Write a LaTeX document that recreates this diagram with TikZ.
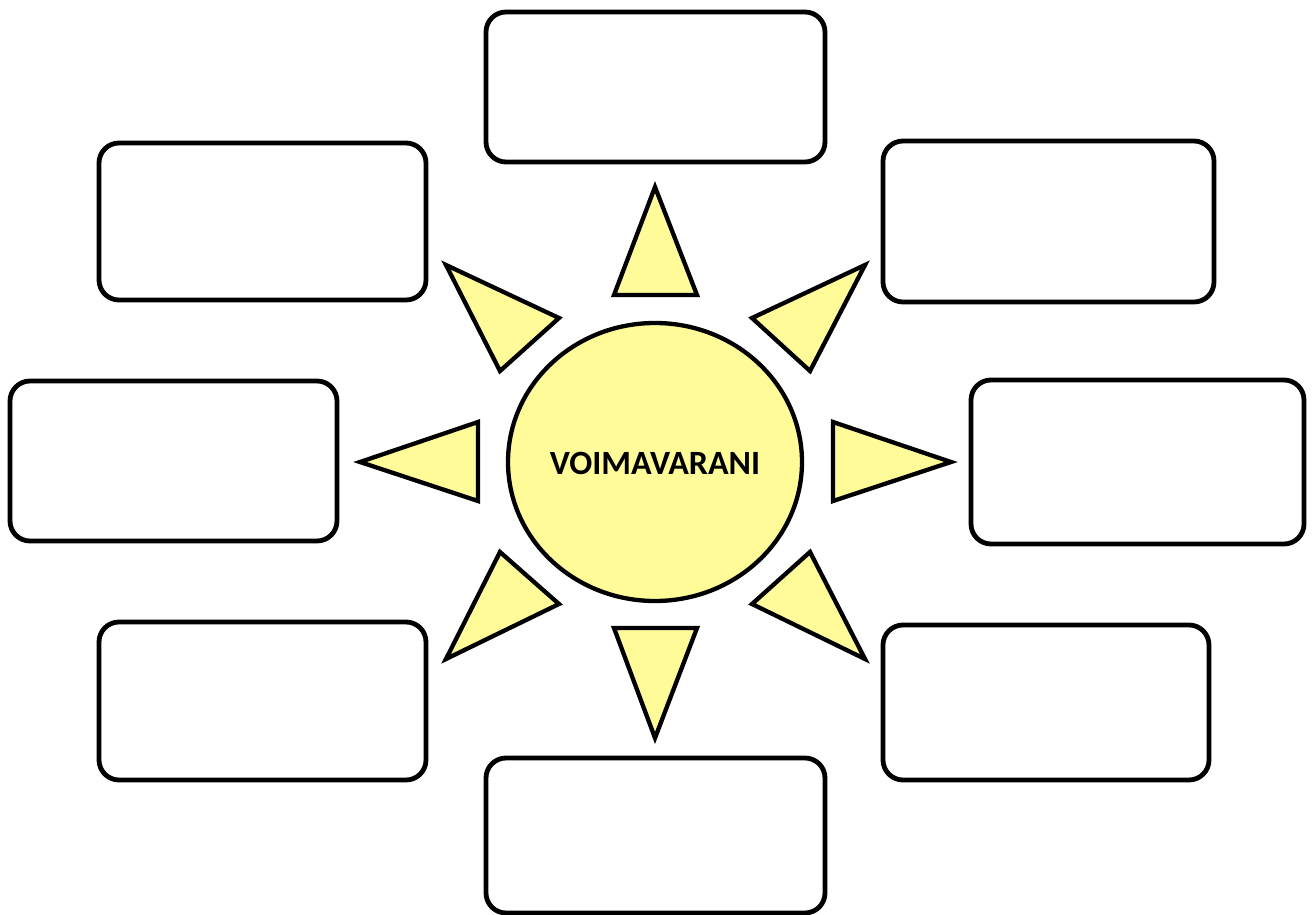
\documentclass[tikz,border=0pt]{standalone}
\usepackage{fontspec}
\setmainfont{Carlito}
\definecolor{sunfill}{RGB}{255,251,153}
\begin{document}
\begin{tikzpicture}[x=1pt,y=-1pt,
  box/.style={draw=black,line width=4.8pt,rounded corners=20pt,fill=white},
  ray/.style={draw=black,line width=4.3pt,fill=sunfill,line join=miter},
  sun/.style={draw=black,line width=4.3pt,fill=sunfill}]
\useasboundingbox (0,0) rectangle (1315,915);
% boxes
\draw[box] (486,12) rectangle (825,162) node[pos=.5](btop){};
\draw[box] (99,143) rectangle (426,300) node[pos=.5](bul){};
\draw[box] (883,141) rectangle (1214,302) node[pos=.5](bur){};
\draw[box] (10,381) rectangle (337,541) node[pos=.5](bl){};
\draw[box] (971,380) rectangle (1304,544) node[pos=.5](br){};
\draw[box] (99,622) rectangle (426,780) node[pos=.5](bll){};
\draw[box] (883,625) rectangle (1209,780) node[pos=.5](blr){};
\draw[box] (486,758) rectangle (825,913) node[pos=.5](bbot){};
% sun
\draw[sun] (655,462) ellipse [x radius=147, y radius=139];
\node[font=\bfseries\fontsize{34}{40}\selectfont] (sunlabel) at (655,463) {VOIMAVARANI};
% rays
\draw[ray] (655,187) -- (614,295) -- (697,295) -- cycle;
\draw[ray] (655,738) -- (614,628) -- (697,628) -- cycle;
\draw[ray] (360,462) -- (478,422) -- (478,501) -- cycle;
\draw[ray] (951,462) -- (833,422) -- (833,501) -- cycle;
\draw[ray] (446,265) -- (559,318) -- (500,371) -- cycle;
\draw[ray] (865,265) -- (752,318) -- (810,371) -- cycle;
\draw[ray] (446,659) -- (559,604) -- (500,552) -- cycle;
\draw[ray] (865,659) -- (752,604) -- (810,552) -- cycle;
\end{tikzpicture}
\end{document}
